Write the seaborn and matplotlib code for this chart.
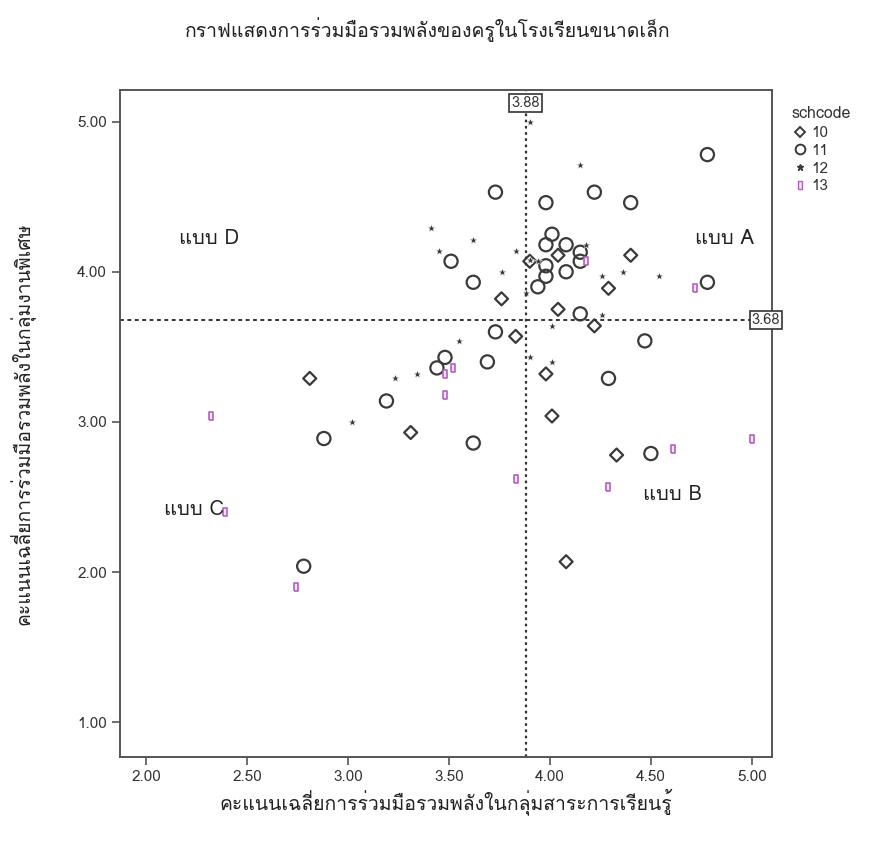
import matplotlib
matplotlib.use("Agg")
import matplotlib.pyplot as plt
import seaborn as sns
import pandas as pd
from matplotlib import font_manager
from matplotlib.ft2font import FT2Font
from matplotlib.lines import Line2D

# ---------------- data ----------------
x10 = [2.81, 3.31, 3.76, 3.83, 3.98, 4.01, 4.04, 4.22, 4.33, 4.29, 4.40, 4.08, 3.90, 4.04]
y10 = [3.29, 2.93, 3.82, 3.57, 3.32, 3.04, 3.75, 3.64, 2.78, 3.89, 4.11, 2.07, 4.07, 4.11]

x11 = [4.78, 4.78, 3.73, 3.98, 4.22, 4.40, 3.51, 3.62, 3.73, 3.69, 3.48, 3.44, 3.19, 2.88,
       3.62, 3.94, 4.15, 4.47, 4.29, 4.50, 2.78, 4.01, 3.98, 4.08, 4.15, 4.15, 3.98, 3.98, 4.08]
y11 = [4.78, 3.93, 4.53, 4.46, 4.53, 4.46, 4.07, 3.93, 3.60, 3.40, 3.43, 3.36, 3.14, 2.89,
       2.86, 3.90, 3.72, 3.54, 3.29, 2.79, 2.04, 4.25, 4.18, 4.18, 4.13, 4.07, 4.04, 3.97, 4.00]

x12 = [3.90, 3.41, 3.62, 3.45, 3.83, 3.76, 3.90, 4.15, 4.26, 4.36, 4.54, 4.18, 3.88, 3.55,
       3.23, 3.34, 3.02, 4.01, 4.01, 3.90, 4.26, 3.94]
y12 = [5.00, 4.29, 4.21, 4.14, 4.14, 4.00, 4.08, 4.71, 3.97, 4.00, 3.97, 4.18, 3.86, 3.54,
       3.29, 3.32, 3.00, 3.64, 3.40, 3.43, 3.71, 4.07]

x13 = [2.32, 2.39, 2.74, 3.52, 3.48, 3.48, 3.83, 4.72, 4.61, 5.00, 4.29, 4.18]
y13 = [3.04, 2.40, 1.90, 3.36, 3.32, 3.18, 2.62, 3.89, 2.82, 2.89, 2.57, 4.07]

groups = ["10", "11", "12", "13"]
mean_x = 3.88
mean_y = 3.68
x_ticks = [2.0, 2.5, 3.0, 3.5, 4.0, 4.5, 5.0]
y_ticks = [1.0, 2.0, 3.0, 4.0, 5.0]
zones = ["แบบ A", "แบบ B", "แบบ C", "แบบ D"]
zone_x = [4.72, 4.46, 2.09, 2.16]
zone_y = [4.22, 2.52, 2.42, 4.22]

title = "กราฟแสดงการร่วมมือรวมพลังของครูในโรงเรียนขนาดเล็ก"
xlabel = "คะแนนเฉลี่ยการร่วมมือรวมพลังในกลุ่มสาระการเรียนรู้"
ylabel = "คะแนนเฉลี่ยการร่วมมือรวมพลังในกลุ่มงานพิเศษ"

df = pd.concat([
    pd.DataFrame({"x": x10, "y": y10, "schcode": "10"}),
    pd.DataFrame({"x": x11, "y": y11, "schcode": "11"}),
    pd.DataFrame({"x": x12, "y": y12, "schcode": "12"}),
    pd.DataFrame({"x": x13, "y": y13, "schcode": "13"}),
])

# ---------------- fonts ----------------
thai = []
for f in font_manager.fontManager.ttflist:
    try:
        if 0x0E01 in FT2Font(f.fname).get_charmap():
            thai.append(f.name)
    except Exception:
        pass
sns.set_style("white")
fam = ([thai[0]] if thai else []) + ["Liberation Sans", "DejaVu Sans"]
plt.rcParams["font.family"] = fam

# ---------------- figure ----------------
fig = plt.figure(figsize=(8.82, 8.44), dpi=100)
ax = fig.add_axes([120/882, 87/844, 652/882, 667/844])

dark = "#3a3a3a"
purple = "#b25fc0"
rect = [(-0.55, -1), (0.55, -1), (0.55, 1), (-0.55, 1), (-0.55, -1)]
styles = {
    "10": dict(marker="D", s=44, facecolors="none", edgecolors=dark, linewidths=1.6),
    "11": dict(marker="o", s=90, facecolors="none", edgecolors=dark, linewidths=1.6),
    "12": dict(marker="*", s=36, color=dark, linewidths=0.3),
    "13": dict(marker=rect, s=40, facecolors="#f3e6f5", edgecolors=purple, linewidths=1.2),
}
for g in groups:
    sub = df[df["schcode"] == g]
    sns.scatterplot(data=sub, x="x", y="y", ax=ax, legend=False, **styles[g])

ax.set_xlim(1.87, 5.10)
ax.set_ylim(0.77, 5.21)
ax.set_xticks(x_ticks)
ax.set_yticks(y_ticks)
ax.set_xticklabels([f"{v:.2f}" for v in x_ticks])
ax.set_yticklabels([f"{v:.2f}" for v in y_ticks])
ax.tick_params(direction="out", length=6, width=1.2, color="#555555",
               labelsize=11, labelcolor="#333333", bottom=True, left=True)
for sp in ax.spines.values():
    sp.set_color("#555555")
    sp.set_linewidth(1.4)

ax.axvline(mean_x, color="#333333", ls=(0, (1.2, 1.6)), lw=1.6, zorder=1)
ax.axhline(mean_y, color="#333333", ls=(0, (2, 1.8)), lw=1.4, zorder=1)

box = dict(boxstyle="square,pad=0.15", fc="white", ec="#333333", lw=1.2)
ax.text(mean_x, 5.125, f"{mean_x:.2f}", ha="center", va="center", fontsize=10.5,
        color="#333333", bbox=box, clip_on=False, zorder=5)
ax.text(5.10 - 0.03, mean_y, f"{mean_y:.2f}", ha="center", va="center", fontsize=10.5,
        color="#333333", bbox=box, clip_on=False, zorder=5)

for t, zx, zy in zip(zones, zone_x, zone_y):
    ax.text(zx, zy, t, ha="left", va="center", fontsize=14.5, color="#222222")

ax.set_xlabel(xlabel, fontsize=14, color="#222222", labelpad=3)
ax.set_ylabel(ylabel, fontsize=14, color="#222222", labelpad=30)
fig.text(428/882, 1 - 30/844, title, ha="center", va="center", fontsize=14, color="#222222")

# legend
handles = [
    Line2D([], [], ls="none", marker="D", ms=5.5, mfc="none", mec=dark, mew=1.4),
    Line2D([], [], ls="none", marker="o", ms=7, mfc="none", mec=dark, mew=1.4),
    Line2D([], [], ls="none", marker="*", ms=5, color=dark),
    Line2D([], [], ls="none", marker=rect, ms=5.5, mfc="#f3e6f5", mec=purple, mew=1.0),
]
leg = fig.legend(handles, groups, title="schcode", loc="upper left",
                 bbox_to_anchor=(785/882, 1 - 100/844), frameon=False,
                 fontsize=11, title_fontsize=11.5, handletextpad=0.1,
                 labelspacing=0.25, handlelength=1.2, borderaxespad=0)
leg._legend_box.align = "left"
for t in leg.get_texts():
    t.set_color("#333333")
leg.get_title().set_color("#333333")

fig.savefig("out.png", dpi=100)
